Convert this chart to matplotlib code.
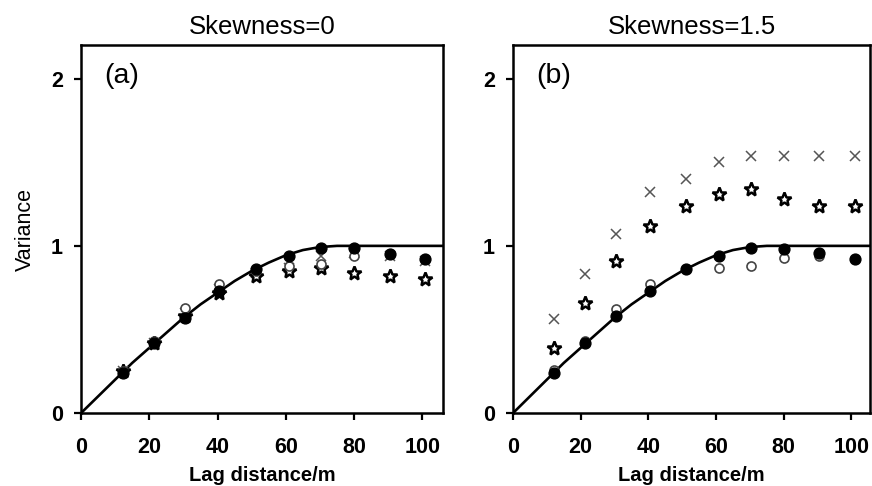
import matplotlib
matplotlib.use('Agg')
import matplotlib.pyplot as plt

plt.rcParams['font.family'] = ['Liberation Sans', 'DejaVu Sans']

# lag distances (m) of the experimental variogram points
lags = [12.2, 21.4, 30.4, 40.4, 51.2, 60.9, 70.4, 80.1, 90.5, 100.9]

# model curve (reaches the sill near 75 m)
model_x = [0, 5, 10, 15, 20, 25, 30, 35, 40, 45, 50, 55, 60, 65, 70, 75, 106]
model_y = [0.0, 0.10, 0.20, 0.30, 0.39, 0.48, 0.57, 0.65, 0.72, 0.79,
           0.85, 0.90, 0.944, 0.975, 0.993, 1.0, 1.0]

# panel (a): skewness = 0
a_filled = [0.24, 0.42, 0.57, 0.73, 0.86, 0.94, 0.99, 0.99, 0.95, 0.92]
a_open = [0.25, 0.43, 0.63, 0.77, 0.85, 0.88, 0.89, 0.94, 0.95, 0.92]
a_cross = [0.25, 0.42, 0.60, 0.74, 0.84, 0.87, 0.94, 0.96, 0.94, 0.91]
a_star = [0.25, 0.42, 0.58, 0.72, 0.82, 0.85, 0.87, 0.84, 0.82, 0.80]

# panel (b): skewness = 1.5
b_filled = [0.24, 0.42, 0.58, 0.73, 0.86, 0.94, 0.99, 0.98, 0.96, 0.92]
b_open = [0.26, 0.43, 0.62, 0.77, 0.86, 0.87, 0.88, 0.93, 0.94, 0.92]
b_cross = [0.56, 0.83, 1.07, 1.32, 1.40, 1.50, 1.54, 1.54, 1.54, 1.54]
b_star = [0.39, 0.66, 0.91, 1.12, 1.24, 1.31, 1.34, 1.28, 1.24, 1.24]

titles = ['Skewness=0', 'Skewness=1.5']
tags = ['(a)', '(b)']
xticks = [0, 20, 40, 60, 80, 100]
yticks = [0, 1, 2]

fig = plt.figure(figsize=(8.72, 4.86), dpi=100)
ax1 = fig.add_axes([0.0929, 0.150, 0.415, 0.757])
ax2 = fig.add_axes([0.5883, 0.150, 0.4095, 0.757])

panels = [(ax1, a_filled, a_open, a_cross, a_star, 106),
          (ax2, b_filled, b_open, b_cross, b_star, 105.5)]

for i, (ax, filled, opn, cross, star, xmax) in enumerate(panels):
    ax.plot(model_x, model_y, color='black', lw=1.9, zorder=2)
    ax.plot(lags, cross, ls='none', marker='x', ms=7, mew=1.1,
            color='#555555', zorder=3)
    ax.plot(lags, star, ls='none', marker='*', ms=10, mew=1.8,
            mfc='white', mec='black', zorder=4)
    ax.plot(lags, opn, ls='none', marker='o', ms=6.5, mew=1.2,
            mfc='white', mec='#444444', zorder=5)
    ax.plot(lags, filled, ls='none', marker='o', ms=7.8,
            color='black', zorder=6)

    ax.set_xlim(0, xmax)
    ax.set_ylim(0, 2.2)
    ax.set_xticks(xticks)
    ax.set_yticks(yticks)
    ax.tick_params(direction='out', length=5, width=1.6, labelsize=15.5)
    ax.tick_params(axis='x', pad=12)
    ax.tick_params(axis='y', pad=8)
    for lbl in ax.get_xticklabels() + ax.get_yticklabels():
        lbl.set_fontweight('bold')
    for sp in ax.spines.values():
        sp.set_linewidth(1.8)

    ax.set_title(titles[i], fontsize=18.5, pad=8)
    ax.set_xlabel('Lag distance/m', fontsize=14.5, fontweight='bold', labelpad=6)
    ax.text(0.065, 0.915, tags[i], transform=ax.transAxes,
            fontsize=20.5, va='center', ha='left')

ax1.set_ylabel('Variance', fontsize=15.5, labelpad=11)

fig.savefig('out.png', dpi=100)
